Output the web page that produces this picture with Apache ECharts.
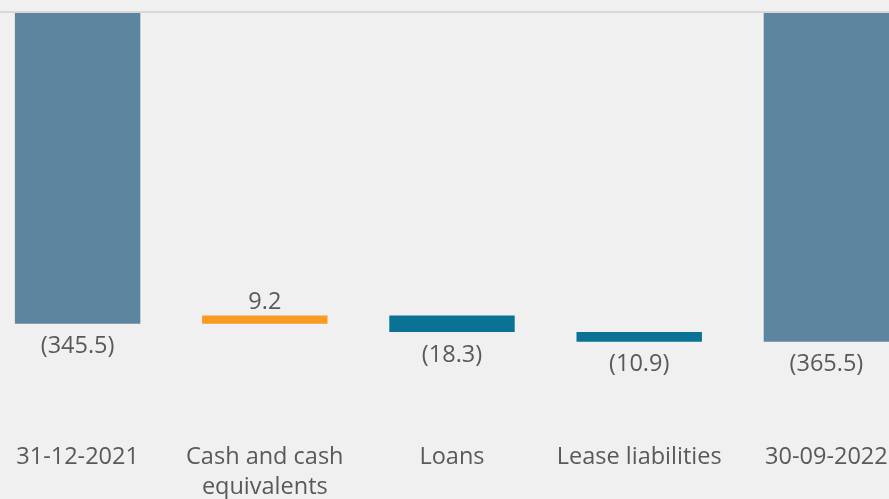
<!DOCTYPE html>
<html><head><meta charset="utf-8">
<script src="https://cdn.jsdelivr.net/npm/echarts@6/dist/echarts.min.js"></script>
<style>html,body{margin:0;padding:0;background:#f0f0f0;}#c{width:889px;height:499px;}</style>
</head><body><div id="c"></div>
<script>
var categories = ['31-12-2021', 'Cash and cash\nequivalents', 'Loans', 'Lease liabilities', '30-09-2022'];
var values = [-345.5, 9.2, -18.3, -10.9, -365.5];
var kinds = ['total', 'change', 'change', 'change', 'total'];
var labels = ['(345.5)', '9.2', '(18.3)', '(10.9)', '(365.5)'];

var totalColor = '#5e859f', upColor = '#f99b21', downColor = '#0a7294';
var base = [], vis = [];
var run = 0;
for (var i = 0; i < values.length; i++) {
  if (kinds[i] === 'total') {
    base.push(0);
    vis.push({value: values[i], itemStyle: {color: totalColor}, label: {position: 'bottom', distance: 11, formatter: labels[i]}});
    run = values[i];
  } else {
    var next = run + values[i];
    var hi = Math.max(run, next), lo = Math.min(run, next);
    base.push(hi);
    var up = values[i] >= 0;
    vis.push({value: lo - hi, itemStyle: {color: up ? upColor : downColor},
      label: {position: up ? 'top' : 'bottom', distance: up ? 1 : 11, formatter: labels[i]}});
    run = next;
  }
}
var chart = echarts.init(document.getElementById('c'));
chart.setOption({
  backgroundColor: '#f0f0f0',
  animation: false,
  grid: {left: -16, width: 936, top: 12, height: 424, outerBoundsMode: 'none', containLabel: false},
  xAxis: {type: 'category', data: categories, position: 'bottom',
    axisLine: {show: false}, axisTick: {show: false},
    axisLabel: {color: '#595959', fontSize: 23.5, fontFamily: 'Open Sans', margin: 6, lineHeight: 30, interval: 0}},
  yAxis: {type: 'value', min: -470, max: 0, show: false},
  series: [
    {type: 'bar', stack: 'w', data: base, itemStyle: {color: 'transparent'}, barWidth: '67%', silent: true,
     markLine: {silent: true, symbol: 'none', label: {show: false}, lineStyle: {color: '#d8d8d8', width: 2, type: 'solid'}, data: [{yAxis: 0}]}},
    {type: 'bar', stack: 'w', data: vis, barWidth: '67%',
     label: {show: true, color: '#595959', fontSize: 23.5, fontFamily: 'Open Sans'}}
  ]
});
</script></body></html>
